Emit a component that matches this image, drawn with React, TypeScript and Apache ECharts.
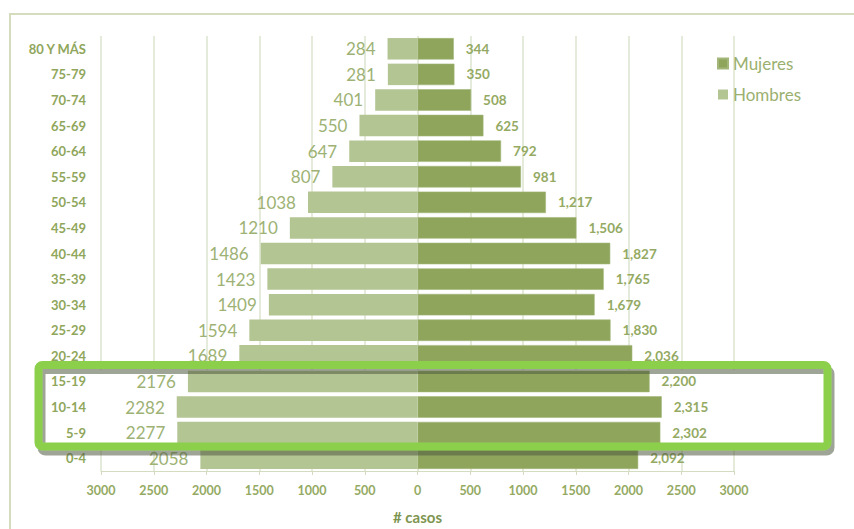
import React, { useEffect, useRef } from "react";
import * as echarts from "echarts";

const categories = ["0-4", "5-9", "10-14", "15-19", "20-24", "25-29", "30-34", "35-39", "40-44", "45-49", "50-54", "55-59", "60-64", "65-69", "70-74", "75-79", "80 Y MÁS"];
const hombres = [2058, 2277, 2282, 2176, 1689, 1594, 1409, 1423, 1486, 1210, 1038, 807, 647, 550, 401, 281, 284];
const mujeres = [2092, 2302, 2315, 2200, 2036, 1830, 1679, 1765, 1827, 1506, 1217, 981, 792, 625, 508, 350, 344];
const xMin = -3000;
const xMax = 3000;
const xStep = 500;

const FONT = "Lato, 'Open Sans', sans-serif";

export default function App() {
  const ref = useRef<HTMLDivElement>(null);
  useEffect(() => {
    if (!ref.current) return;
    const chart = echarts.init(ref.current, null, { renderer: "svg" });
    chart.setOption({
      animation: false,
      backgroundColor: "#ffffff",
      textStyle: { fontFamily: FONT },
      grid: { left: 101, right: 120, top: 36, bottom: 56, containLabel: false },
      legend: {
        orient: "vertical",
        left: 712,
        top: 50,
        itemWidth: 10,
        itemHeight: 10,
        itemGap: 14,
        icon: "rect",
        data: ["Mujeres", "Hombres"],
        textStyle: { fontSize: 17, color: "#9BB070", fontFamily: FONT },
      },
      xAxis: {
        type: "value",
        min: xMin,
        max: xMax,
        interval: xStep,
        name: "# casos",
        nameLocation: "middle",
        nameGap: 38,
        nameTextStyle: { fontSize: 15, fontWeight: "bold", color: "#7E9550", fontFamily: FONT },
        axisLine: { show: true, lineStyle: { color: "#D3DCC0", width: 1 } },
        axisTick: { show: true, length: 4, lineStyle: { color: "#D3DCC0" } },
        axisLabel: {
          margin: 13,
          fontSize: 12.5,
          fontWeight: "bold",
          color: "#94AA63",
          fontFamily: FONT,
          formatter: (v: number) => String(Math.abs(v)),
        },
        splitLine: { show: true, lineStyle: { color: "#DDE4CF", width: 1.5 } },
      },
      yAxis: {
        type: "category",
        data: categories,
        axisLine: { show: false },
        axisTick: { show: false },
        axisLabel: {
          margin: 15,
          fontSize: 13,
          fontWeight: "bold",
          color: "#8FA65B",
          fontFamily: FONT,
        },
      },
      series: [
        {
          name: "Mujeres",
          type: "bar",
          stack: "total",
          barCategoryGap: "16%",
          data: mujeres,
          itemStyle: { color: "#8EA55B", borderColor: "#A3B77A", borderWidth: 0.6 },
          label: {
            show: true,
            position: "right",
            distance: 12,
            fontSize: 13.5,
            fontWeight: "bold",
            color: "#94AA63",
            fontFamily: FONT,
            formatter: (p: any) => Number(p.value).toLocaleString("en-US"),
          },
          z: 3,
        },
        {
          name: "Hombres",
          type: "bar",
          stack: "total",
          barCategoryGap: "16%",
          data: hombres.map((v) => -v),
          itemStyle: { color: "#B4C594" },
          label: {
            show: true,
            position: "left",
            distance: 12,
            fontSize: 17,
            color: "#9DB274",
            fontFamily: FONT,
            formatter: (p: any) => String(Math.abs(p.value)),
          },
          z: 3,
        },
      ],
      graphic: [
        {
          type: "polyline",
          z: 0,
          silent: true,
          shape: { points: [[10, 529], [10, 14], [854, 14]] },
          style: { stroke: "#D3DDBE", lineWidth: 2, fill: "none" },
        },
        {
          type: "rect",
          z: 1,
          silent: true,
          shape: { x: 95, y: 370, width: 729, height: 74 },
          style: { fill: "#ffffff" },
        },
        {
          type: "rect",
          z: 100,
          silent: true,
          shape: { x: 38.5, y: 365, width: 789, height: 81.5, r: 4 },
          style: {
            fill: "none",
            stroke: "#8CCF4C",
            lineWidth: 8,
            shadowColor: "rgba(80,88,60,0.55)",
            shadowOffsetX: 3,
            shadowOffsetY: 5,
            shadowBlur: 1,
          },
        },
      ],
    });
    return () => chart.dispose();
  }, []);
  return (
    <div
      ref={ref}
      style={{ position: "fixed", left: 0, top: 0, width: 854, height: 529, background: "#fff" }}
    />
  );
}
